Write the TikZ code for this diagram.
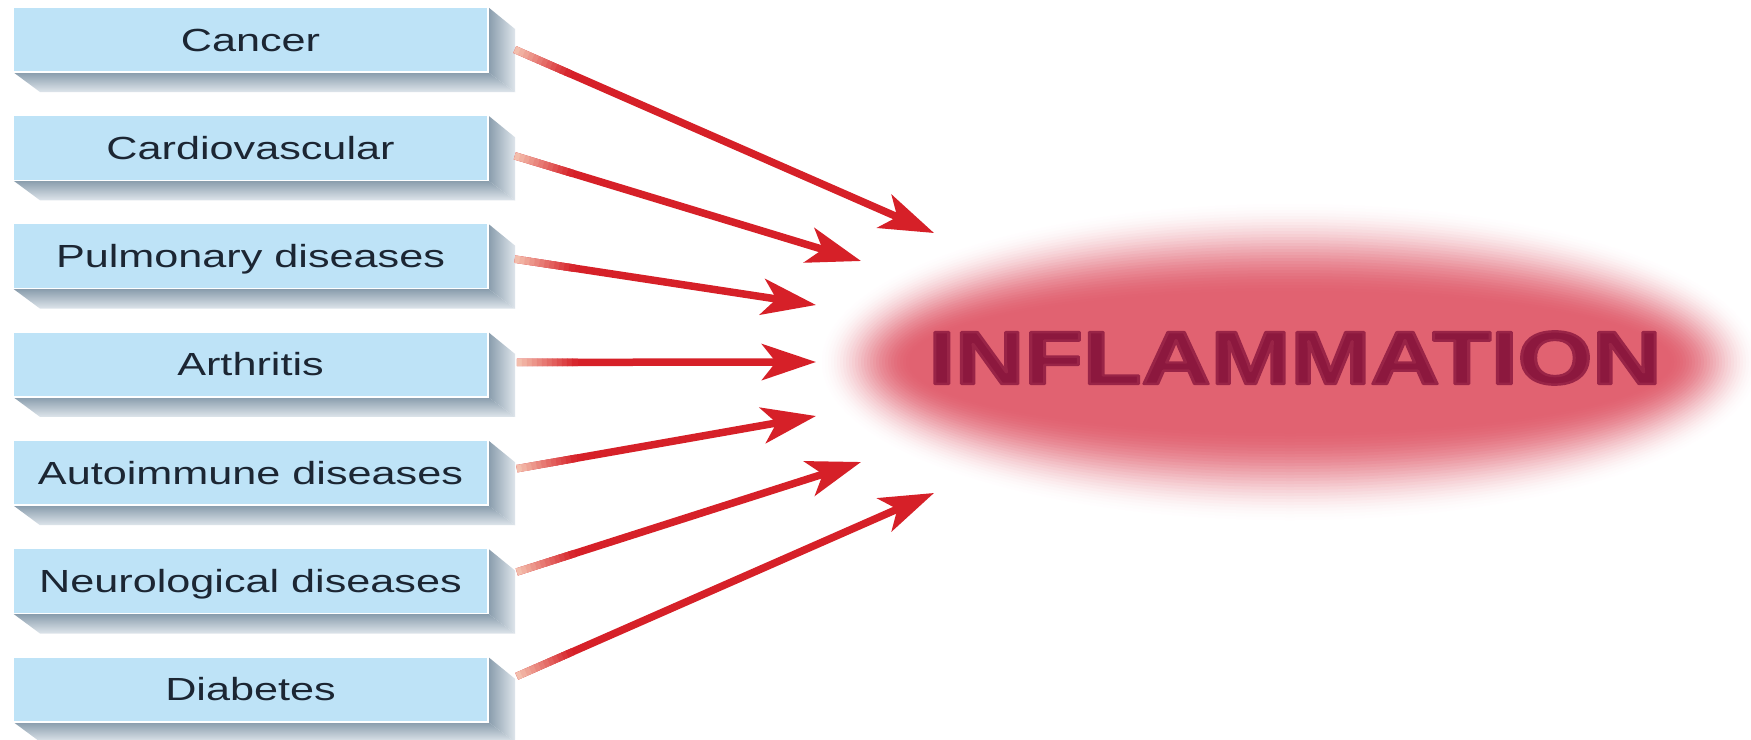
\documentclass[tikz,border=0pt]{standalone}
\usepackage{fontspec}
\setmainfont{Liberation Sans}
\usepackage{graphicx}
\usetikzlibrary{arrows.meta,calc}
\definecolor{boxblue}{RGB}{190,227,247}
\definecolor{shadowA}{RGB}{135,155,171}
\definecolor{shadowB}{RGB}{222,229,235}
\definecolor{labeltxt}{RGB}{28,38,51}
\definecolor{arrowred}{RGB}{214,32,40}
\definecolor{fadeA}{RGB}{246,204,184}
\definecolor{glowcore}{RGB}{225,98,113}
\definecolor{inflam}{RGB}{140,24,62}
\tikzset{
  disease/.style={draw=white, line width=1.5pt, fill=boxblue, minimum width=475pt,
    minimum height=65pt, inner sep=0pt, text height=23pt, text depth=0pt,
    text=labeltxt, font=\fontsize{32}{36}\selectfont},
  feed/.style={draw=arrowred, line width=7.5pt,
    -{Stealth[length=54pt,width=36pt,inset=14pt]}},
  feedfade/.style={line width=7.5pt, line cap=butt},
  bigword/.style={inner sep=0pt},
}
\newcommand{\widetxt}[1]{\scalebox{1.35}[1]{#1}}
\newcommand{\bigtxt}{\resizebox{733pt}{52.5pt}{\fontsize{77}{80}\selectfont\bfseries\special{pdf:literal direct q 1 j 0.60 0.14 0.28 RG 2.5 w 2 Tr}INFLAMMATION\special{pdf:literal direct Q}}}
\begin{document}
\begin{tikzpicture}[x=1pt,y=-1pt]
\fill[white] (0,0) rectangle (1751,739);
\useasboundingbox (0,0) rectangle (1751,739);

% shadows of the boxes
\foreach \i in {0,...,6}{
  \pgfmathsetmacro\tp{7+108.3*\i}
  \pgfmathsetmacro\bt{\tp+65}
  \shade[top color=shadowA, bottom color=shadowB]
    (13,\bt) -- (488,\bt) -- (515,\bt+20) -- (40,\bt+20) -- cycle;
  \shade[left color=shadowA, right color=shadowB]
    (488,\tp) -- (515,\tp+22) -- (515,\bt+20) -- (488,\bt) -- cycle;
}

% boxes
\node[disease] (b1) at (250.5,39.5)  {\widetxt{Cancer}};
\node[disease] (b2) at (250.5,147.8) {\widetxt{Cardiovascular}};
\node[disease] (b3) at (250.5,256.1) {\widetxt{Pulmonary diseases}};
\node[disease] (b4) at (250.5,364.4) {\widetxt{Arthritis}};
\node[disease] (b5) at (250.5,472.7) {\widetxt{Autoimmune diseases}};
\node[disease] (b6) at (250.5,581.0) {\widetxt{Neurological diseases}};
\node[disease] (b7) at (250.5,689.3) {\widetxt{Diabetes}};

% glowing ellipse
\foreach \d in {96,93,...,3,0}{
  \pgfmathsetmacro\m{50*(1+cos(\d*1.875))}
  \pgfmathsetmacro\rx{378+\d}
  \pgfmathsetmacro\ry{68+\d}
  \fill[glowcore!\m!white] (1290,362) ellipse [x radius=\rx, y radius=\ry];
}
\node[bigword, text=inflam] (infl) at (1295,358) {\bigtxt};

% arrow start and tip points
\coordinate (s1) at ([shift={(26,10)}]b1.east);
\coordinate (s2) at ([shift={(26,8)}]b2.east);
\coordinate (s3) at ([shift={(26,3)}]b3.east);
\coordinate (s4) at ([shift={(28,-2)}]b4.east);
\coordinate (s5) at ([shift={(28,-4)}]b5.east);
\coordinate (s6) at ([shift={(28,-9)}]b6.east);
\coordinate (s7) at ([shift={(28,-13)}]b7.east);
\coordinate (t1) at (934,233);
\coordinate (t2) at (861,261);
\coordinate (t3) at (816,305);
\coordinate (t4) at (816,362);
\coordinate (t5) at (816,416);
\coordinate (t6) at (861,462);
\coordinate (t7) at (934,493);

\foreach \i in {1,...,7}{
  \draw[feed] (s\i) -- (t\i);
  \foreach \k in {0,...,11}{
    \pgfmathsetmacro\a{5*\k}
    \pgfmathsetmacro\b{5*\k+6}
    \pgfmathsetmacro\p{8+\k*8}
    \draw[feedfade, draw=arrowred!\p!fadeA] ($(s\i)!\a pt!(t\i)$) -- ($(s\i)!\b pt!(t\i)$);
  }
}
\end{tikzpicture}
\end{document}
